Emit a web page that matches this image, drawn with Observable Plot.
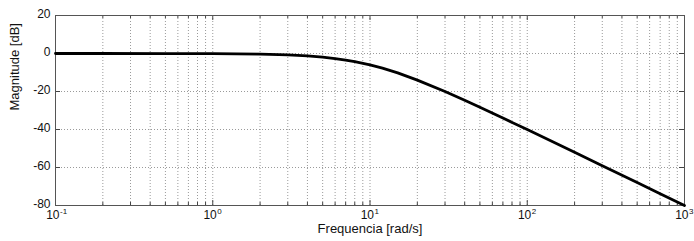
<!DOCTYPE html>
<html>
<head>
<meta charset="utf-8">
<script src="https://cdn.jsdelivr.net/npm/d3@7"></script>
<script src="https://cdn.jsdelivr.net/npm/@observablehq/plot@0.6"></script>
<style>
  body { margin: 0; background: #fff; }
  svg { font-family: "Liberation Sans", Arial, Helvetica, sans-serif; }
</style>
</head>
<body>
<div id="chart"></div>
<script>
const freq = [0.1, 0.2, 0.5, 1, 2, 3, 4, 5, 6, 7, 8, 10, 12, 15, 20, 30, 40, 50, 70, 100, 200, 300, 500, 700, 1000];
const magnitude = [0, 0, -0.02, -0.09, -0.34, -0.75, -1.29, -1.94, -2.67, -3.45, -4.27, -6.0, -7.7, -10.2, -14.0, -20.0, -24.6, -28.3, -34.0, -40.0, -52.0, -59.1, -67.9, -73.8, -80.0];

const majorX = [0.1, 1, 10, 100, 1000];
const exponents = ["-1", "0", "1", "2", "3"];
const minorX = [0.2,0.3,0.4,0.5,0.6,0.7,0.8,0.9, 2,3,4,5,6,7,8,9, 20,30,40,50,60,70,80,90, 200,300,400,500,600,700,800,900];
const yTicks = [-80, -60, -40, -20, 0, 20];
const yGrid = [-60, -40, -20, 0];
const xLabel = "Frequencia [rad/s]";
const yLabel = "Magnitude [dB]";

const data = freq.map((f, i) => ({f, m: magnitude[i]}));
const plotH = 241 - 15 - 36;
const plotW = 694 - 55 - 10;
const gridStyle = {stroke: "#9a9a9a", strokeOpacity: 1, strokeWidth: 1, strokeDasharray: "1,2"};

const chart = Plot.plot({
  width: 694,
  height: 241,
  marginLeft: 55,
  marginRight: 10,
  marginTop: 15,
  marginBottom: 36,
  x: {type: "log", domain: [0.1, 1000], axis: null},
  y: {domain: [-80, 20], axis: null},
  marks: [
    Plot.gridX([...minorX, ...majorX.slice(1, -1)], gridStyle),
    Plot.gridY(yGrid, gridStyle),
    // inward ticks
    Plot.ruleX(minorX, {x: d => d, insetTop: plotH - 3, stroke: "#444"}),
    Plot.ruleX(minorX, {x: d => d, insetBottom: plotH - 3, stroke: "#444"}),
    Plot.ruleX(majorX, {x: d => d, insetTop: plotH - 5, stroke: "#444"}),
    Plot.ruleX(majorX, {x: d => d, insetBottom: plotH - 5, stroke: "#444"}),
    Plot.ruleY(yTicks, {y: d => d, insetRight: plotW - 5, stroke: "#444"}),
    Plot.ruleY(yTicks, {y: d => d, insetLeft: plotW - 5, stroke: "#444"}),
    Plot.frame({stroke: "#555"}),
    Plot.line(data, {x: "f", y: "m", stroke: "#000", strokeWidth: 2.8}),
    // y tick labels
    Plot.text(yTicks, {x: 0.1, y: d => d, text: d => String(d), textAnchor: "end", dx: -5, dy: -1, fontSize: 12, fill: "#111"}),
    // x tick labels 10^n
    Plot.text(majorX, {x: d => d, frameAnchor: "bottom", text: () => "10", textAnchor: "end", dx: 4, dy: 13, fontSize: 12, fill: "#111"}),
    Plot.text(majorX, {x: d => d, frameAnchor: "bottom", text: (d, i) => exponents[i], textAnchor: "start", dx: 4.5, dy: 8, fontSize: 8, fill: "#111"}),
    // axis titles
    Plot.text([xLabel], {frameAnchor: "bottom", text: d => d, dy: 27, fontSize: 13, fill: "#111"}),
    Plot.text([yLabel], {frameAnchor: "left", text: d => d, rotate: -90, dx: -41, fontSize: 13, fill: "#111"})
  ]
});
document.getElementById("chart").appendChild(chart);
</script>
</body>
</html>
